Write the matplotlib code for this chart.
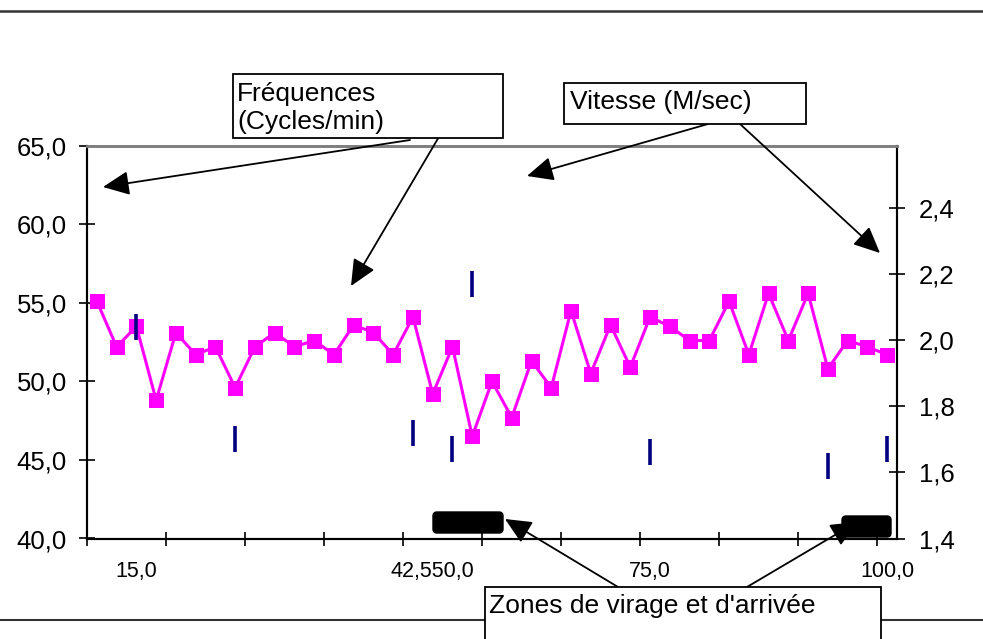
import numpy as np
import matplotlib
matplotlib.use("Agg")
import matplotlib.pyplot as plt
from matplotlib.patches import FancyArrowPatch, FancyBboxPatch, Rectangle

plt.rcParams['font.family'] = ['Liberation Sans', 'DejaVu Sans']

# frequences (cycles/min), one value per category
frequences = [55.1, 52.2, 53.5, 48.8, 53.1, 51.7, 52.2, 49.6, 52.2, 53.1,
              52.2, 52.6, 51.7, 53.6, 53.1, 51.7, 54.1, 49.2, 52.2, 46.5,
              50.0, 47.7, 51.3, 49.6, 54.5, 50.5, 53.6, 50.9, 54.1, 53.5,
              52.6, 52.6, 55.1, 51.7, 55.6, 52.6, 55.6, 50.8, 52.6, 52.2,
              51.7]
# vitesse (M/sec), only measured at a few categories
vitesse_cat = [2, 7, 16, 18, 19, 28, 37, 40]
vitesse = [2.04, 1.70, 1.72, 1.67, 2.17, 1.66, 1.62, 1.67]
# distance labels on the x axis
xlab_cat = [2, 17, 28, 40]
xlab_txt = ["15,0", "42,550,0", "75,0", "100,0"]

left_ticks = [40, 45, 50, 55, 60, 65]
right_ticks = [1.4, 1.6, 1.8, 2.0, 2.2, 2.4]

fig = plt.figure(figsize=(9.83, 6.39), dpi=100)
W, H = 983, 639
ax = fig.add_axes([87 / W, 1 - 538.5 / H, 810 / W, 392.8 / H])
n = len(frequences)
x = np.arange(n)
ax.plot(x, frequences, color='#FF00FF', lw=2.2, marker='s', ms=10.8, mew=0,
        zorder=3)
ax.set_xlim(-0.5, n - 0.5)
ax.set_ylim(40, 65)
ax.set_yticks(left_ticks)
ax.set_yticklabels([f"{v:.1f}".replace('.', ',') for v in left_ticks])
ax.set_xticks(np.arange(-0.5, n, 4))
ax.set_xticklabels([])
ax.set_xticks(xlab_cat, minor=True)
ax.set_xticklabels(xlab_txt, minor=True, fontsize=15.5)
ax.tick_params(axis='x', which='minor', length=0, pad=16)
ax.tick_params(axis='x', which='major', direction='inout', length=10,
               width=1.2)
ax.tick_params(axis='y', direction='inout', length=12, width=1.2,
               labelsize=18.5, pad=8.5)

ax2 = ax.twinx()
ax2.plot(vitesse_cat, vitesse, ls='none', marker='|', ms=19, mew=2.6,
         color='#000080', zorder=4)
ax2.set_ylim(1.4, 2.5875)
ax2.set_yticks(right_ticks)
ax2.set_yticklabels([f"{v:.1f}".replace('.', ',') for v in right_ticks])
ax2.tick_params(axis='y', direction='inout', length=12, width=1.2,
                labelsize=18.5, pad=9.5)

for a in (ax, ax2):
    a.spines['top'].set_color('#808080')
    a.spines['top'].set_linewidth(2)
    for s in ('left', 'right', 'bottom'):
        a.spines[s].set_linewidth(1.5)
        a.spines[s].set_color('black')

# overlay in pixel coordinates for the drawing annotations
ov = fig.add_axes([0, 0, 1, 1], zorder=10)
ov.set_xlim(0, W)
ov.set_ylim(H, 0)
ov.axis('off')
ov.patch.set_alpha(0)

ov.plot([0, W], [11, 11], color='#333333', lw=1.8)
ov.plot([0, W], [620, 620], color='#333333', lw=1.5)

def textbox(x0, y0, x1, y1, lines, tx, baselines):
    ov.add_patch(Rectangle((x0, y0), x1 - x0, y1 - y0, facecolor='white',
                           edgecolor='black', lw=1.3, zorder=5))
    for txt, ty in zip(lines, baselines):
        ov.text(tx, ty, txt, fontsize=19, va='baseline', ha='left',
                zorder=6)

textbox(232.5, 74, 502.5, 138, ["Fréquences", "(Cycles/min)"], 237,
        [101.5, 129.5])
textbox(564, 82.5, 806, 124, ["Vitesse (M/sec)"], 570, [109.5])
textbox(485, 587, 881, 650, ["Zones de virage et d'arrivée"], 489, [613.5])

for (bx0, by0, bx1, by1) in [(433, 512, 503, 533), (842, 516, 891, 537)]:
    ov.add_patch(FancyBboxPatch((bx0 + 4, by0 + 4), bx1 - bx0 - 8,
                                by1 - by0 - 8,
                                boxstyle="round,pad=4", facecolor='black',
                                edgecolor='black', zorder=4))

arrows = [((410, 140), (103, 187)), ((443, 130), (351, 286)),
          ((708, 124), (527, 176)), ((740, 124), (880, 253)),
          ((618, 587), (505, 519)), ((747, 587), (857, 522))]
for p0, p1 in arrows:
    ov.add_patch(FancyArrowPatch(p0, p1,
                                 arrowstyle="-|>,head_length=1.2,head_width=0.55",
                                 mutation_scale=13.5, color='black', lw=1.3,
                                 shrinkA=0, shrinkB=0, zorder=4))

fig.savefig("out.png", dpi=100)
